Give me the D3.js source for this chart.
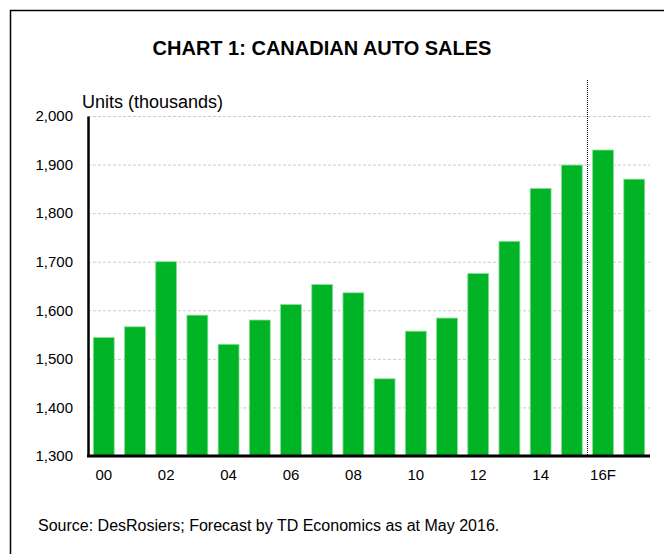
<!DOCTYPE html>
<html>
<head>
<meta charset="utf-8">
<script src="https://cdn.jsdelivr.net/npm/d3@7"></script>
<style>
  html, body { margin: 0; padding: 0; background: #fff; }
  svg { display: block; font-family: "Liberation Sans", Arial, sans-serif; }
</style>
</head>
<body>
<svg id="chart"></svg>
<script>
// annual Canadian auto sales, thousands of units (2016-17 = forecast)
const years = ["2000","2001","2002","2003","2004","2005","2006","2007","2008",
               "2009","2010","2011","2012","2013","2014","2015","2016","2017"];
const sales = [1544, 1566, 1700, 1590, 1530, 1580, 1612, 1653, 1636,
               1459, 1557, 1584, 1676, 1742, 1851, 1899, 1930, 1870];
const yTicks = [1300, 1400, 1500, 1600, 1700, 1800, 1900, 2000];
const xTickLabels = {"2000": "00", "2002": "02", "2004": "04", "2006": "06", "2008": "08",
                     "2010": "10", "2012": "12", "2014": "14", "2016": "16F"};
const forecastStart = "2016";

const width = 664, height = 554;
const margin = { top: 116, right: 14, bottom: 98, left: 88 };

const svg = d3.select("#chart")
  .attr("width", width)
  .attr("height", height);

// frame (only top and left edges fall inside the picture)
svg.append("path")
  .attr("d", `M10.5,${height} V10.5 H${width}`)
  .attr("fill", "none")
  .attr("stroke", "#000")
  .attr("stroke-width", 1.5);

const x = d3.scaleBand()
  .domain(years)
  .range([margin.left, width - margin.right])
  .paddingInner(0.33)
  .paddingOuter(0.17);

const y = d3.scaleLinear()
  .domain([1300, 2000])
  .range([height - margin.bottom, margin.top]);

// gridlines
svg.append("g")
  .selectAll("line")
  .data(yTicks.slice(1))
  .join("line")
  .attr("x1", margin.left)
  .attr("x2", width - margin.right)
  .attr("y1", d => y(d) + 0.5)
  .attr("y2", d => y(d) + 0.5)
  .attr("stroke", "#cccccc")
  .attr("stroke-width", 1)
  .attr("stroke-dasharray", "3,2");

// bars
svg.append("g")
  .selectAll("rect")
  .data(years)
  .join("rect")
  .attr("x", d => x(d))
  .attr("width", x.bandwidth())
  .attr("y", (d, i) => y(sales[i]))
  .attr("height", (d, i) => y(1300) - y(sales[i]))
  .attr("fill", "#00b426")
  .attr("stroke", "#8fe09c")
  .attr("stroke-width", 0.8);

// forecast divider
const step = x.step();
const divX = x(forecastStart) - (step - x.bandwidth()) / 2;
svg.append("line")
  .attr("x1", divX).attr("x2", divX)
  .attr("y1", 80).attr("y2", y(1300))
  .attr("stroke", "#000")
  .attr("stroke-width", 1)
  .attr("stroke-dasharray", "1,1");

const tickFont = "Liberation Sans, Arial, sans-serif";

// y axis
const yAxis = svg.append("g")
  .attr("transform", `translate(${margin.left},0)`)
  .call(d3.axisLeft(y).tickValues(yTicks).tickFormat(d3.format(",")).tickSize(0).tickPadding(15));
yAxis.select(".domain").attr("stroke", "#000").attr("stroke-width", 2.5);
yAxis.selectAll("text").attr("font-size", 15).attr("fill", "#000").attr("font-family", tickFont);

// x axis
const xAxis = svg.append("g")
  .attr("transform", `translate(0,${y(1300)})`)
  .call(d3.axisBottom(x).tickValues(Object.keys(xTickLabels)).tickFormat(d => xTickLabels[d]).tickSize(0).tickPadding(13));
xAxis.select(".domain").attr("d", `M${margin.left - 1},0H${width - margin.right}`).attr("stroke", "#000").attr("stroke-width", 3);
xAxis.selectAll("text").attr("font-size", 15).attr("fill", "#000").attr("font-family", tickFont);

// titles and notes
svg.append("text")
  .attr("x", 322).attr("y", 55)
  .attr("text-anchor", "middle")
  .attr("font-size", 20)
  .attr("font-weight", "bold")
  .text("CHART 1: CANADIAN AUTO SALES");

svg.append("text")
  .attr("x", 82).attr("y", 108)
  .attr("font-size", 18)
  .text("Units (thousands)");

svg.append("text")
  .attr("x", 38).attr("y", 531)
  .attr("font-size", 16)
  .text("Source: DesRosiers; Forecast by TD Economics as at May 2016.");
</script>
</body>
</html>
